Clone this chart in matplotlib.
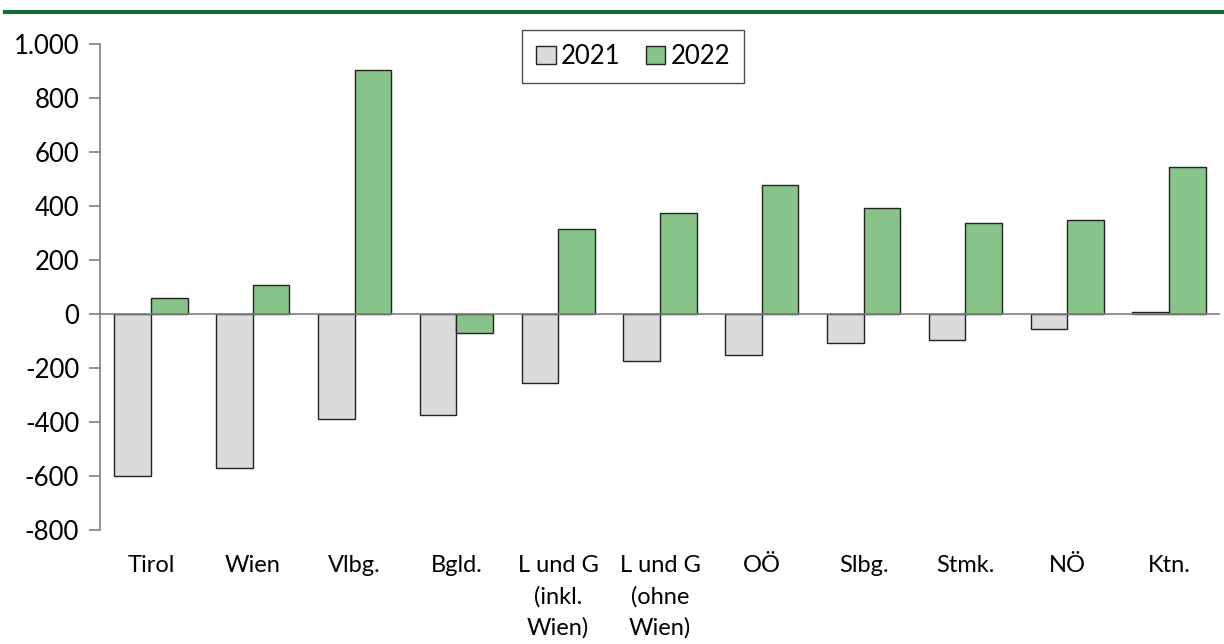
import numpy as np
import matplotlib.pyplot as plt
from matplotlib.ticker import FuncFormatter

plt.rcParams['font.family'] = ['Lato', 'DejaVu Sans']

###############################################################################
###                                 DATA
###############################################################################
regions = ['Tirol', 'Wien', 'Vlbg.', 'Bgld.', 'L und G\n(inkl.\nWien)', 'L und G\n(ohne\nWien)',
           'OÖ', 'Slbg.', 'Stmk.', 'NÖ', 'Ktn.']
val_2021 = [-600, -572, -390, -373, -257, -173, -150, -106, -95, -57, 8]
val_2022 = [59, 108, 905, -69, 316, 375, 479, 394, 338, 350, 545]

col_2021 = '#d9dcdb'
col_2022 = '#88c48a'

###############################################################################
###                                 PLOT
###############################################################################
fig = plt.figure(figsize=(12.24, 6.44), dpi=100)
ax = fig.add_axes([100/1224, 114/644, 1120/1224, 486/644])

x = np.arange(len(regions))
w = 0.36
ax.bar(x - w/2, val_2021, w, color=col_2021, edgecolor='#222222', linewidth=1.0, label='2021', zorder=2)
ax.bar(x + w/2, val_2022, w, color=col_2022, edgecolor='#222222', linewidth=1.0, label='2022', zorder=2)

ax.set_xlim(-0.5, len(regions) - 0.5)
ax.set_ylim(-800, 1000)
ax.set_yticks(np.arange(-800, 1001, 200))
ax.yaxis.set_major_formatter(FuncFormatter(lambda v, p: f'{int(v):,}'.replace(',', '.')))
ax.axhline(0, color='#7f7f7f', linewidth=1.2, zorder=3)

for s in ['top', 'right', 'bottom']:
    ax.spines[s].set_visible(False)
ax.spines['left'].set_color('#7f7f7f')
ax.spines['left'].set_linewidth(1.2)
ax.tick_params(axis='y', length=8, width=1.2, color='#7f7f7f', labelsize=18.5, pad=7)
ax.set_xticks(x)
ax.set_xticklabels(regions, fontsize=17, linespacing=1.57, va='top')
ax.tick_params(axis='x', length=0, pad=18)

leg = ax.legend(loc='upper center', bbox_to_anchor=(0.476, 1.029), ncol=2, fontsize=18.5,
                frameon=True, fancybox=False, edgecolor='#222222', handlelength=0.75,
                handleheight=0.75, handletextpad=0.2, columnspacing=1.0, borderpad=0.55,
                borderaxespad=0)
leg.get_frame().set_linewidth(1.0)

# green line at the top
fig.add_artist(plt.Line2D([5/1224, 1], [1 - 12/644, 1 - 12/644], color='#1a6b35', linewidth=3))

plt.savefig('out.png', dpi=100)
